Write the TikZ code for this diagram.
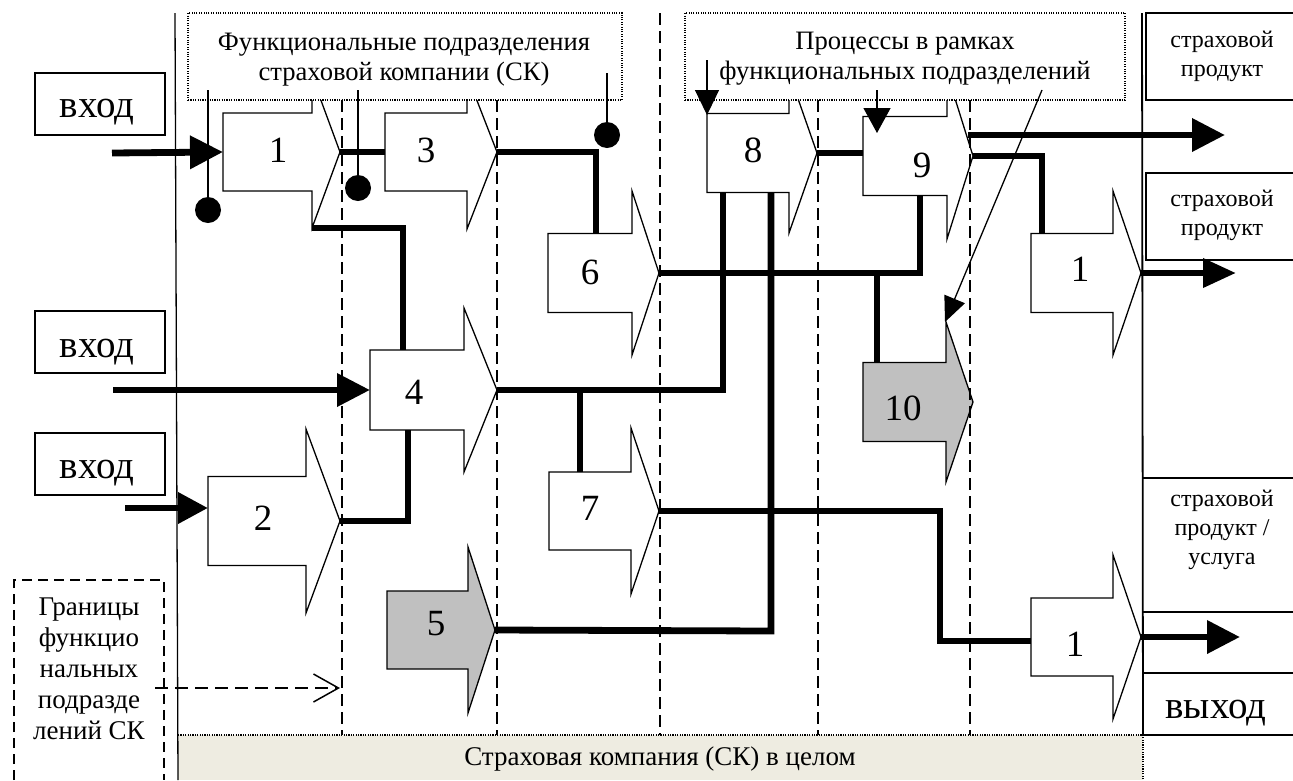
\documentclass[tikz,border=0pt]{standalone}
\usepackage{fontspec}
\setmainfont{Liberation Serif}
\usetikzlibrary{arrows.meta}
\definecolor{shgray}{RGB}{192,192,192}
\definecolor{bandbeige}{RGB}{238,236,225}
% name, L, R, T(tip), C(center y), h (half body), H (half head), fill
\newcommand\procshape[8]{%
  \draw[outl, fill=#8] (#2,#5-#6) -- (#3,#5-#6) -- (#3,#5-#7) -- (#4,#5) -- (#3,#5+#7) -- (#3,#5+#6) -- (#2,#5+#6) -- cycle;
  \coordinate (#1-w) at (#2,#5);
  \coordinate (#1-e) at (#4,#5);
  \coordinate (#1-hb) at (#3,#5+#7);
}
\begin{document}
\begin{tikzpicture}[x=1pt,y=-1pt,
  outl/.style={draw=black,line width=1.3pt},
  flow/.style={line width=6.8pt},
  lead/.style={line width=1.3pt},
  divline/.style={line width=2.3pt,dash pattern=on 12pt off 6pt},
  dotline/.style={line width=1.1pt,dash pattern=on 1.1pt off 1.3pt},
  dotbox/.style={draw,dotline,fill=white},
  bigtip/.style={-{Triangle[length=33pt,width=32pt]}},
  tipthree/.style={-{Triangle[length=30pt,width=30pt]}},
  tipouttwo/.style={-{Triangle[length=33pt,width=28pt]}},
  smalltip/.style={-{Triangle[length=25pt,width=24pt]}},
  smalltipb/.style={-{Triangle[length=25pt,width=27pt]}},
  smalltipc/.style={-{Triangle[length=25pt,width=22pt]}},
  barbtip/.style={-{Straight Barb[length=25pt,width=28pt]}},
  num/.style={inner sep=0pt,font=\fontsize{37pt}{37pt}\selectfont},
  hdr/.style={inner sep=0pt,align=center,font=\fontsize{26.6pt}{30pt}\selectfont},
  iobox/.style={draw,line width=1.3pt,minimum width=130pt,minimum height=62pt,inner sep=0pt},
  iotext/.style={inner sep=0pt,anchor=base,font=\fontsize{39pt}{39pt}\selectfont},
  prodtxt/.style={inner sep=0pt,align=center,font=\fontsize{24pt}{29pt}\selectfont},
  dot/.style={fill=black,circle,minimum size=26pt,inner sep=0pt},
]
\useasboundingbox (0,0) rectangle (1293,780);

% band "company as a whole"
\fill[bandbeige] (178,735) rectangle (1143,780);
\draw[dotline] (178,735) -- (1143,735) -- (1143,780);
\node[hdr,font=\fontsize{27pt}{30pt}\selectfont] (band) at (660,759) {Страховая компания (СК) в целом};

% outer border lines
\draw[line width=1.3pt] (175,13) -- (178,780);
\draw[line width=1.8pt] (1142,13) -- (1143,735);

% right output boxes
\draw[line width=1.3pt] (1293,13) -- (1146,13) -- (1146,100) -- (1293,100);
\draw[line width=1.3pt] (1293,173) -- (1146,173) -- (1146,260) -- (1293,260);
\draw[line width=1.6pt] (1143,478) -- (1293,478) (1143,612) -- (1293,612)
  (1143,673) -- (1293,673) (1143,735) -- (1293,735);
\node[prodtxt] (o1) at (1222,56) {страховой\\продукт};
\node[prodtxt] (o2) at (1222,215) {страховой\\продукт};
\node[prodtxt] (o3) at (1222,530) {страховой\\продукт /\\услуга};
\node[iotext] (out) at (1216,718) {выход};

% input boxes
\node[iobox] (in1) at (100,104) {};
\node[iobox] (in2) at (100,342) {};
\node[iobox] (in3) at (100,464) {};
\node[iotext] (in1t) at (97,117) {вход};
\node[iotext] (in2t) at (97,357) {вход};
\node[iotext] (in3t) at (97,478) {вход};

% process shapes
\procshape{s1}{223}{312}{340}{152}{39}{76}{white}
\procshape{s3}{385}{467}{497}{152}{39}{77}{white}
\procshape{s6}{548}{632}{659}{273}{39.5}{82}{white}
\procshape{s4}{370}{464}{497}{390}{40}{82}{white}
\procshape{s2}{208}{306}{340}{521}{44.5}{92}{white}
\procshape{s7}{549}{631}{659}{511}{39}{83}{white}
\procshape{s5}{387}{468}{495}{630}{39}{83}{shgray}
\procshape{s8}{707}{789}{817}{153}{39.5}{80}{white}
\procshape{s9}{863}{947}{973}{156}{39.5}{83}{white}
\procshape{s10}{863}{946}{973}{402}{39.5}{80}{shgray}
\procshape{s11}{1031}{1113}{1141}{273}{39.5}{82}{white}
\procshape{s12}{1031}{1113}{1141}{637}{39}{82}{white}

\node[num] (n1) at (278,150) {1};
\node[num] (n3) at (426,150) {3};
\node[num] (n8) at (753,150) {8};
\node[num] (n9) at (922,165) {9};
\node[num] (n6) at (590,272) {6};
\node[num] (n4) at (414,392) {4};
\node[num] (n2) at (263,518) {2};
\node[num] (n7) at (590,508) {7};
\node[num] (n5) at (436,624) {5};
\node[num] (n10) at (903,408) {10};
\node[num] (n11) at (1080,269) {1};
\node[num] (n12) at (1075,644) {1};

% division boundaries
\draw[divline] (342,100) -- (342,735);
\draw[divline] (497,100) -- (497,735);
\draw[divline] (660,13) -- (660,735);
\draw[divline] (818,100) -- (818,735);
\draw[divline] (970,100) -- (970,735);

% dotted caption boxes
\node[dotbox,minimum width=434pt,minimum height=87pt,inner sep=0pt] (capA) at (405,56.5) {};
\node[hdr] (capAt) at (404,60) {Функциональные подразделения\\страховой компании (СК)};
\node[dotbox,minimum width=440pt,minimum height=87pt,inner sep=0pt] (capB) at (905,56.5) {};
\node[hdr] (capBt) at (905,59) {Процессы в рамках\\функциональных подразделений};

% inputs
\coordinate (i1) at (112,153);
\coordinate (i2) at (113,390);
\coordinate (i3) at (125,508);
\coordinate (s2in) at (208,508);
\draw[flow,bigtip] (i1) -- (s1-w);
\draw[flow,bigtip] (i2) -- (s4-w);
\draw[flow,tipthree] (i3) -- (s2in);

% internal flows
\coordinate (s4t) at (403,350);
\coordinate (s4b) at (408,430);
\coordinate (s6t) at (596,234);
\coordinate (s8b1) at (723,193);
\coordinate (s8b2) at (771,193);
\coordinate (s7t) at (580,472);
\coordinate (br7) at (580,390);
\coordinate (s9b) at (920,196);
\coordinate (s9in) at (863,153);
\coordinate (br10) at (877,273);
\coordinate (s10t) at (877,363);
\coordinate (s11t) at (1042,234);
\coordinate (k7) at (940,511);
\coordinate (s12w) at (1031,641);
\coordinate (k5) at (771,631);

\draw[flow] (s1-e) -- (s3-w);
\draw[flow] (s1-hb) -| (s4t);
\draw[flow] (s2-e) -| (s4b);
\draw[flow] (s3-e) -| (s6t);
\draw[flow] (s4-e) -| (s8b1);
\draw[flow] (br7) -- (s7t);
\draw[flow] (s6-e) -| (s9b);
\draw[flow] (br10) -- (s10t);
\draw[flow] (s5-e) -- (k5) -- (s8b2);
\draw[flow] (s7-e) -- (k7) |- (s12w);
\draw[flow] (s8-e) -- (s9in);
\draw[flow] (s9-e) -| (s11t);

% outputs
\coordinate (o1s) at (968,135);
\coordinate (o1e) at (1225,135);
\coordinate (o2e) at (1236,273);
\coordinate (o3e) at (1240,637);
\draw[flow,bigtip] (o1s) -- (o1e);
\draw[flow,tipouttwo] (s11-e) -- (o2e);
\draw[flow,bigtip] (s12-e) -- (o3e);

% leads from caption A (dots)
\node[dot] (p1) at (208,210) {};
\node[dot] (p2) at (358,188) {};
\node[dot] (p3) at (607,135) {};
\coordinate (p1s) at (208,90);
\coordinate (p2s) at (358,90);
\coordinate (p3s) at (607,73);
\draw[lead] (p1s) -- (p1.center);
\draw[lead] (p2s) -- (p2.center);
\draw[lead] (p3s) -- (p3.center);

% leads from caption B (arrows)
\coordinate (q1s) at (707,60);
\coordinate (q1e) at (707,115);
\coordinate (q2s) at (877,90);
\coordinate (q2e) at (877,133);
\coordinate (q3s) at (1042,90);
\coordinate (q3e) at (945,322);
\draw[lead,smalltip] (q1s) -- (q1e);
\draw[lead,smalltipb] (q2s) -- (q2e);
\draw[lead,smalltipc] (q3s) -- (q3e);

% legend: boundaries
\draw[line width=1.5pt,dash pattern=on 10pt off 6pt] (14,780) -- (14,580) -- (164,580) -- (164,780);
\node[hdr,font=\fontsize{27pt}{31pt}\selectfont] (leg) at (89,669) {Границы\\функцио\\нальных\\подразде\\лений СК};
\coordinate (lgs) at (155,688);
\coordinate (lge) at (340,688);
\draw[line width=1.5pt,dash pattern=on 13pt off 7pt,barbtip] (lgs) -- (lge);
\end{tikzpicture}
\end{document}
